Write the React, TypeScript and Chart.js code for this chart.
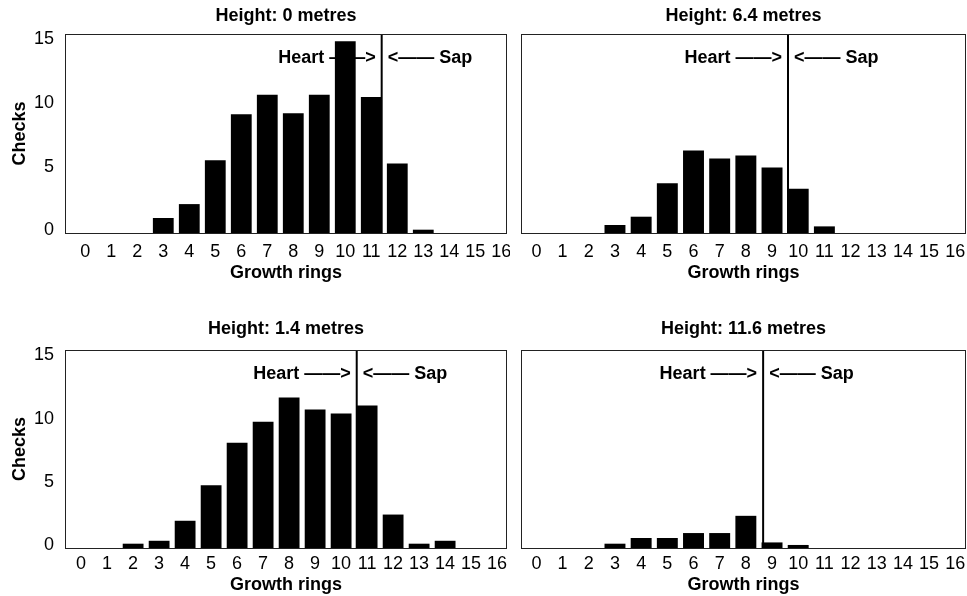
import React, { useEffect, useRef } from 'react';
import { Chart, registerables } from 'chart.js';

Chart.register(...registerables);

// Growth ring index along the x axis
const rings = [0, 1, 2, 3, 4, 5, 6, 7, 8, 9, 10, 11, 12, 13, 14, 15, 16];
const ringTicks = [0, 1, 2, 3, 4, 5, 6, 7, 8, 9, 10, 11, 12, 13, 14, 15, 16];
const checkTicks = [0, 5, 10, 15];

// Checks per growth ring at each sampling height
const checksAt0m = [0, 0, 0, 1.18, 2.27, 5.72, 9.33, 10.86, 9.4, 10.86, 15.07, 10.68, 5.45, 0.26, 0, 0, 0];
const checksAt6_4m = [0, 0, 0, 0.63, 1.28, 3.9, 6.47, 5.85, 6.08, 5.14, 3.47, 0.52, 0, 0, 0, 0, 0];
const checksAt1_4m = [0, 0, 0.34, 0.57, 2.15, 4.96, 8.31, 9.96, 11.88, 10.94, 10.62, 11.25, 2.64, 0.34, 0.57, 0, 0];
const checksAt11_6m = [0, 0, 0, 0.34, 0.79, 0.79, 1.18, 1.18, 2.54, 0.44, 0.24, 0, 0, 0, 0, 0, 0];

const panelTitles = ['Height: 0 metres', 'Height: 6.4 metres', 'Height: 1.4 metres', 'Height: 11.6 metres'];
const panelSeries = [checksAt0m, checksAt6_4m, checksAt1_4m, checksAt11_6m];
// Heartwood / sapwood boundary, in growth rings
const heartSapBoundary = [11.4, 9.61, 10.6, 8.66];

const FONT = '"Liberation Sans", Arial, Helvetica, sans-serif';
const FS = 18;
const LH = FS * 1.2;

// Page layout of the four panels (canvas box and plot box, page pixels)
const frames = [
  { left: 0, top: 0, width: 510, height: 290, plotLeft: 65, plotRight: 507, plotTop: 34, plotBottom: 233, xMin: -0.78, titleY: 16, tickY: 252, xTitleY: 273, yAxis: true },
  { left: 510, top: 0, width: 457, height: 290, plotLeft: 521, plotRight: 966, plotTop: 34, plotBottom: 233, xMin: -0.59, titleY: 16, tickY: 252, xTitleY: 273, yAxis: false },
  { left: 0, top: 290, width: 510, height: 306, plotLeft: 65, plotRight: 507, plotTop: 350, plotBottom: 548, xMin: -0.62, titleY: 329, tickY: 564, xTitleY: 585, yAxis: true },
  { left: 510, top: 290, width: 457, height: 306, plotLeft: 521, plotRight: 966, plotTop: 350, plotBottom: 548, xMin: -0.59, titleY: 329, tickY: 564, xTitleY: 585, yAxis: false },
];

const X_SPAN = 17;
const Y_MAX = 15.63;

const panelDecor = {
  id: 'panelDecor',
  afterDatasetsDraw(chart: any, _args: any, opts: any) {
    const { ctx, chartArea: a } = chart;
    const x = chart.scales.x;
    const px = x.getPixelForValue(opts.boundary);
    ctx.save();
    // boundary line
    ctx.strokeStyle = '#000';
    ctx.lineWidth = 2;
    ctx.beginPath();
    ctx.moveTo(px, a.top);
    ctx.lineTo(px, a.bottom);
    ctx.stroke();
    // labels either side of the boundary
    ctx.font = `bold ${FS}px ${FONT}`;
    ctx.fillStyle = '#000';
    ctx.textBaseline = 'middle';
    const ty = a.top + 24;
    ctx.textAlign = 'right';
    ctx.fillText('Heart \u2014\u2014>', px - 6, ty);
    ctx.textAlign = 'left';
    ctx.fillText('<\u2014\u2014 Sap', px + 6, ty);
    // panel frame
    ctx.strokeStyle = '#222';
    ctx.lineWidth = 1;
    ctx.strokeRect(a.left + 0.5, a.top + 0.5, a.right - a.left - 1, a.bottom - a.top);
    ctx.restore();
  },
};

function Panel({ index }: { index: number }) {
  const ref = useRef<HTMLCanvasElement | null>(null);
  const f = frames[index];

  useEffect(() => {
    if (!ref.current) return;
    const bottom = f.top + f.height;
    const plotTopLocal = f.plotTop - f.top;
    const titleLocal = f.titleY - f.top;
    const values = panelSeries[index];

    const chart = new Chart(ref.current, {
      type: 'bar',
      data: {
        datasets: [
          {
            data: rings.map((r, i) => ({ x: r, y: values[i] })),
            backgroundColor: '#000',
            borderWidth: 0,
            barPercentage: 0.8,
            categoryPercentage: 1,
          },
        ],
      },
      options: {
        animation: false,
        responsive: false,
        events: [],
        layout: {
          padding: {
            left: 0,
            right: f.left + f.width - f.plotRight,
            top: 0,
            bottom: 0,
          },
        },
        plugins: {
          legend: { display: false },
          tooltip: { enabled: false },
          title: {
            display: true,
            fullSize: false,
            text: panelTitles[index],
            color: '#000',
            font: { family: FONT, size: FS, weight: 'bold' },
            padding: { top: titleLocal - LH / 2, bottom: plotTopLocal - titleLocal - LH / 2 },
          },
          panelDecor: { boundary: heartSapBoundary[index] },
        } as any,
        scales: {
          x: {
            type: 'linear',
            offset: false,
            min: f.xMin,
            max: f.xMin + X_SPAN,
            grid: { display: false, drawTicks: false, offset: false },
            border: { display: false },
            afterBuildTicks: (s: any) => {
              s.ticks = ringTicks.map((v) => ({ value: v }));
            },
            afterFit: (s: any) => {
              s.height = bottom - f.plotBottom;
              s.paddingLeft = 0;
              s.paddingRight = 0;
            },
            ticks: {
              autoSkip: false,
              maxRotation: 0,
              color: '#000',
              padding: f.tickY - f.plotBottom - LH / 2,
              font: { family: FONT, size: FS },
            },
            title: {
              display: true,
              text: 'Growth rings',
              color: '#000',
              font: { family: FONT, size: FS, weight: 'bold' },
              padding: { top: 0, bottom: bottom - f.xTitleY - LH / 2 },
            },
          },
          y: {
            display: f.yAxis,
            min: 0,
            max: Y_MAX,
            grid: { display: false, drawTicks: false },
            border: { display: false },
            afterBuildTicks: (s: any) => {
              s.ticks = checkTicks.map((v) => ({ value: v }));
            },
            afterFit: (s: any) => {
              // the left margin is held by the y axis box, shown or not
              s.width = f.plotLeft - f.left;
              s.paddingTop = 0;
              s.paddingBottom = 0;
            },
            ticks: {
              color: '#000',
              padding: 11,
              labelOffset: -2.5,
              font: { family: FONT, size: FS },
            },
            title: {
              display: true,
              text: 'Checks',
              color: '#000',
              font: { family: FONT, size: FS, weight: 'bold' },
              padding: { top: 20 - LH / 2, bottom: 0 },
            },
          },
        },
      },
      plugins: [panelDecor],
    });
    return () => chart.destroy();
  }, [index]);

  return (
    <canvas
      ref={ref}
      width={f.width}
      height={f.height}
      style={{ position: 'absolute', left: f.left, top: f.top, width: f.width, height: f.height }}
    />
  );
}

export default function App() {
  return (
    <div style={{ position: 'fixed', left: 0, top: 0, width: 967, height: 596, background: '#fff', overflow: 'hidden' }}>
      {frames.map((_, i) => (
        <Panel key={i} index={i} />
      ))}
    </div>
  );
}
